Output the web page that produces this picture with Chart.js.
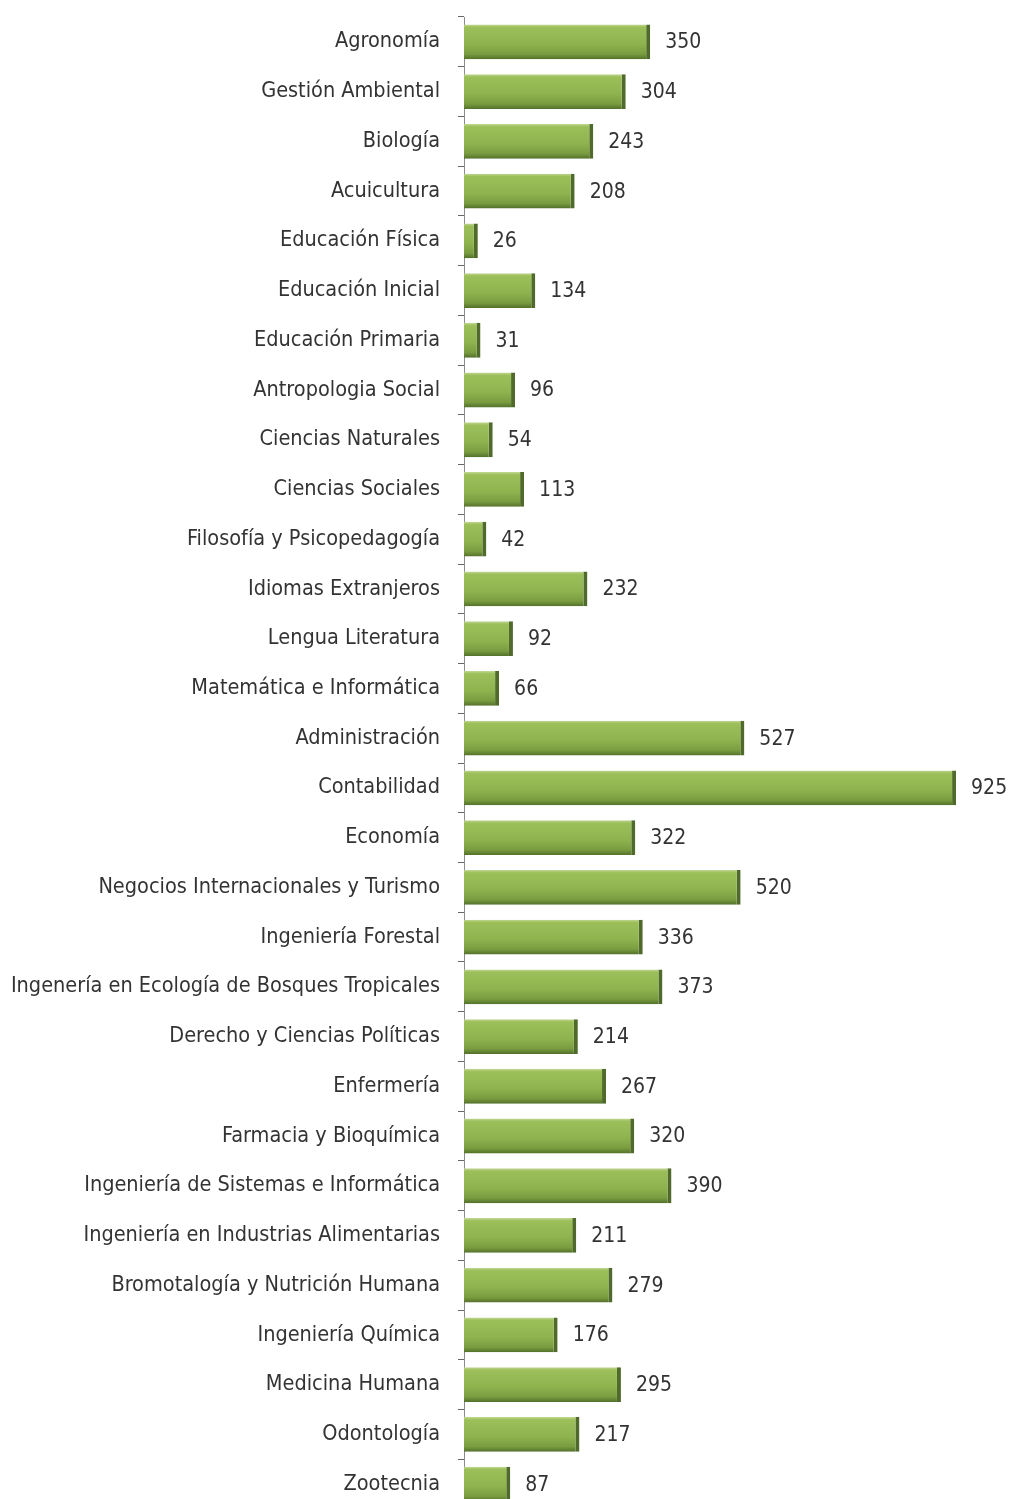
<!DOCTYPE html>
<html>
<head>
<meta charset="utf-8">
<script src="https://cdn.jsdelivr.net/npm/chart.js@4/dist/chart.umd.min.js"></script>
<style>
  html, body { margin: 0; padding: 0; background: #fff; overflow: hidden; }
  canvas { display: block; }
</style>
</head>
<body>
<canvas id="myChart" width="1011" height="1515"></canvas>
<script>
// categories, top to bottom
var carreras = [
  'Agronomía', 'Gestión Ambiental', 'Biología', 'Acuicultura', 'Educación Física',
  'Educación Inicial', 'Educación Primaria', 'Antropologia Social', 'Ciencias Naturales', 'Ciencias Sociales',
  'Filosofía y Psicopedagogía', 'Idiomas Extranjeros', 'Lengua Literatura', 'Matemática e Informática', 'Administración',
  'Contabilidad', 'Economía', 'Negocios Internacionales y Turismo', 'Ingeniería Forestal', 'Ingenería en Ecología de Bosques Tropicales',
  'Derecho y Ciencias Políticas', 'Enfermería', 'Farmacia y Bioquímica', 'Ingeniería de Sistemas e Informática', 'Ingeniería en Industrias Alimentarias',
  'Bromotalogía y Nutrición Humana', 'Ingeniería Química', 'Medicina Humana', 'Odontología', 'Zootecnia'
];
var valores = [
  350, 304, 243, 208, 26,
  134, 31, 96, 54, 113,
  42, 232, 92, 66, 527,
  925, 322, 520, 336, 373,
  214, 267, 320, 390, 211,
  279, 176, 295, 217, 87
];

var fontFamily = '"Liberation Sans Narrow", "DejaVu Sans Condensed", "Liberation Sans", sans-serif';
var barPct = 0.7;

// vertical shading per bar, taken from the category scale
function barFill(c) {
  var chart = c.chart;
  var ys = chart.scales.y;
  if (!chart.chartArea || !ys) return '#8fb44f';
  var y = ys.getPixelForValue(c.dataIndex);
  var half = ys.height / carreras.length * barPct / 2;
  var g = chart.ctx.createLinearGradient(0, y - half, 0, y + half);
  g.addColorStop(0, '#c2d896');
  g.addColorStop(0.08, '#9cbf5a');
  g.addColorStop(0.55, '#8fb44f');
  g.addColorStop(0.85, '#7a9c40');
  g.addColorStop(1, '#52702a');
  return g;
}

// value labels at the end of the bars
const valueLabels = {
  id: 'valueLabels',
  afterDatasetsDraw(chart) {
    const ctx = chart.ctx;
    const ds = chart.data.datasets[0];
    ctx.save();
    ctx.font = '21px ' + fontFamily;
    ctx.fillStyle = '#333';
    ctx.textAlign = 'left';
    ctx.textBaseline = 'middle';
    chart.getDatasetMeta(0).data.forEach(function(bar, i) {
      ctx.fillText(ds.data[i], bar.x + 15, bar.y + 1);
    });
    ctx.restore();
  }
};

const ctx = document.getElementById('myChart').getContext('2d');

var chart = new Chart(ctx, {
  type: 'bar',
  data: {
    labels: carreras,
    datasets: [{
      data: valores,
      backgroundColor: barFill,
      borderColor: '#4f6a2a',
      borderWidth: {top: 0, right: 4, bottom: 0, left: 0},
      borderSkipped: false,
      barPercentage: barPct,
      categoryPercentage: 1
    }]
  },
  options: {
    indexAxis: 'y',
    responsive: false,
    animation: false,
    layout: {
      padding: {top: 17, bottom: 6, left: 10, right: 15}
    },
    plugins: {
      legend: {display: false},
      tooltip: {enabled: false}
    },
    scales: {
      x: {
        display: false,
        min: 0,
        max: 1000
      },
      y: {
        afterFit: function(scale) {
          scale.width = 454;
          scale.paddingTop = 0;   // no extra room for first/last label
          scale.paddingBottom = 0;
        },
        border: {display: true, color: '#8c8c8c', width: 1},
        grid: {
          drawOnChartArea: false,
          drawTicks: true,
          tickLength: 6,
          color: '#666'
        },
        ticks: {
          color: '#333',
          padding: 18,
          autoSkip: false,
          font: {family: fontFamily, size: 21.5}
        }
      }
    }
  },
  plugins: [valueLabels]
});
</script>
</body>
</html>
